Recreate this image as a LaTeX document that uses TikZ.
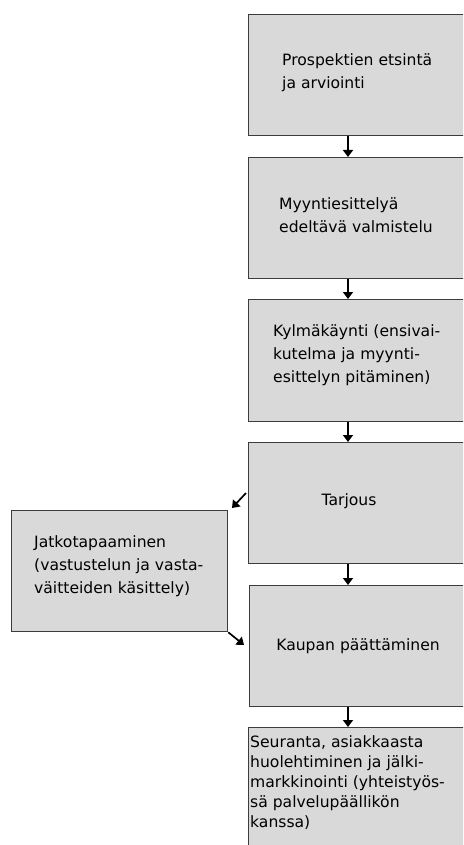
\documentclass[tikz,border=0pt]{standalone}
\usepackage{fontspec}
\setmainfont{DejaVu Sans}
\usetikzlibrary{arrows.meta,calc}
\definecolor{boxfill}{HTML}{D9D9D9}
\definecolor{boxline}{HTML}{3C3C3C}
\tikzset{
  box/.style={draw=boxline, fill=boxfill, line width=1.3pt, rectangle, anchor=north west, inner sep=0pt},
  txt/.style={align=left, inner sep=0pt, font=\fontsize{15.6}{23}\selectfont, text=black},
  arr/.style={line width=1.7pt, -{Triangle[width=10pt,length=7pt]}},
}
\begin{document}
\begin{tikzpicture}[x=1pt,y=-1pt]
\useasboundingbox (0,0) rectangle (463,845);
\clip (0,0) rectangle (463,845);
\node[box, minimum width=230pt, minimum height=121pt] (b1) at (248,14) {};
\node[box, minimum width=230pt, minimum height=121pt] (b2) at (248,157) {};
\node[box, minimum width=230pt, minimum height=122pt] (b3) at (248,299) {};
\node[box, minimum width=230pt, minimum height=121pt] (b4) at (248,442) {};
\node[box, minimum width=230pt, minimum height=121pt] (b5) at (249,585) {};
\node[box, minimum width=230pt, minimum height=140pt] (b6) at (248,727) {};
\node[box, minimum width=216pt, minimum height=121pt] (j) at (11,510) {};

\node[txt, anchor=west] (t1) at (282,73) {Prospektien etsintä\\ja arviointi};
\node[txt, anchor=west] (t2) at (279,215) {Myyntiesittelyä\\edeltävä valmistelu};
\node[txt, anchor=west] (t3) at (273,355) {Kylmäkäynti (ensivai-\\kutelma ja myynti-\\esittelyn pitäminen)};
\node[txt] (t4) at (349,501) {Tarjous};
\node[txt] (t5) at (358,646) {Kaupan päättäminen};
\node[txt, anchor=west, font=\fontsize{15.6}{20}\selectfont] (t6) at (250,783) {Seuranta, asiakkaasta\\huolehtiminen ja jälki-\\markkinointi (yhteistyös-\\sä palvelupäällikön\\kanssa)};
\node[txt, anchor=west] (tj) at (34,566) {Jatkotapaaminen\\(vastustelun ja vasta-\\väitteiden käsittely)};

\coordinate (ax) at (348,0);
\draw[arr] (b1.south -| ax) -- (b2.north -| ax);
\draw[arr] (b2.south -| ax) -- (b3.north -| ax);
\draw[arr] (b3.south -| ax) -- (b4.north -| ax);
\draw[arr] (b4.south -| ax) -- (b5.north -| ax);
\draw[arr] (b5.south -| ax) -- (b6.north -| ax);
\coordinate (p1) at (246,493);
\coordinate (p2) at (232,508);
\draw[arr] (p1) -- (p2);
\coordinate (p3) at (244,645);
\draw[arr] (j.south east) -- (p3);
\end{tikzpicture}
\end{document}
